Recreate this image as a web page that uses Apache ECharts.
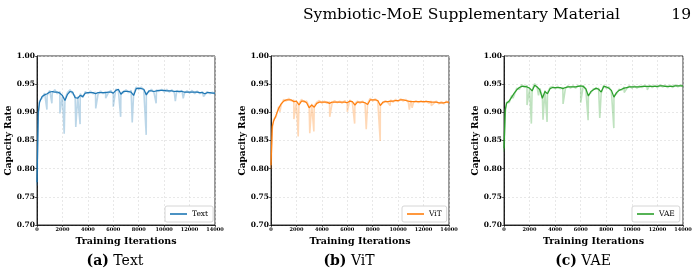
<!DOCTYPE html>
<html>
<head>
<meta charset="utf-8">
<script src="https://cdn.jsdelivr.net/npm/echarts@6/dist/echarts.min.js"></script>
<style>
  html, body { margin: 0; padding: 0; background: #fff; }
  #chart { width: 700px; height: 274px; }
</style>
</head>
<body>
<div id="chart"></div>
<script>
// training iterations of the smoothed curves and of the raw (light) traces
const iters = [0, 100, 200, 400, 600, 800, 1000, 1200, 1400, 1600, 1800, 2000, 2200, 2400, 2600, 2800, 3000,
  3200, 3400, 3600, 3800, 4000, 4200, 4400, 4600, 4800, 5000, 5200, 5400, 5600, 5800, 6000, 6200, 6400,
  6600, 6800, 7000, 7200, 7400, 7600, 7800, 8000, 8200, 8400, 8600, 8800, 9000, 9200, 9400, 9600, 9800,
  10000, 10200, 10400, 10600, 10800, 11000, 11200, 11400, 11600, 11800, 12000, 12200, 12400, 12600,
  12800, 13000, 13200, 13400, 13600, 13800, 14000];

const xTicks = [0, 2000, 4000, 6000, 8000, 10000, 12000, 14000];
const yTicks = ['0.70', '0.75', '0.80', '0.85', '0.90', '0.95', '1.00'];

// Text
const textSmooth = [0.776, 0.900, 0.918, 0.928, 0.931, 0.933, 0.936, 0.937, 0.936, 0.936, 0.934, 0.930, 0.921,
  0.932, 0.937, 0.936, 0.926, 0.925, 0.930, 0.928, 0.934, 0.935, 0.935, 0.935, 0.933, 0.935, 0.935, 0.935,
  0.935, 0.936, 0.936, 0.934, 0.939, 0.941, 0.932, 0.937, 0.937, 0.937, 0.936, 0.930, 0.942, 0.943, 0.942,
  0.941, 0.931, 0.938, 0.938, 0.937, 0.938, 0.939, 0.939, 0.939, 0.938, 0.938, 0.938, 0.937, 0.937, 0.937,
  0.937, 0.936, 0.936, 0.936, 0.936, 0.936, 0.936, 0.935, 0.935, 0.933, 0.935, 0.935, 0.934, 0.934];
const textRaw = [0.770, 0.895, 0.921, 0.925, 0.934, 0.930, 0.939, 0.934, 0.940, 0.933, 0.937, 0.929, 0.924,
  0.935, 0.940, 0.933, 0.929, 0.928, 0.933, 0.926, 0.937, 0.933, 0.938, 0.933, 0.936, 0.932, 0.938, 0.933,
  0.937, 0.934, 0.939, 0.932, 0.941, 0.939, 0.935, 0.935, 0.940, 0.935, 0.939, 0.932, 0.945, 0.940, 0.945,
  0.939, 0.934, 0.936, 0.941, 0.935, 0.940, 0.937, 0.941, 0.936, 0.941, 0.936, 0.940, 0.935, 0.939, 0.935,
  0.939, 0.934, 0.938, 0.934, 0.939, 0.933, 0.938, 0.933, 0.937, 0.931, 0.937, 0.933, 0.936, 0.932];
const textSpikeIters = [780, 1170, 1800, 2140, 3050, 3390, 4620, 5400, 6000, 6580, 7490, 8590, 9370, 10880, 11500, 13100];
const textSpikeVals = [0.905, 0.916, 0.898, 0.862, 0.874, 0.879, 0.907, 0.925, 0.910, 0.892, 0.882, 0.860, 0.916, 0.920, 0.925, 0.928];

// ViT
const vitSmooth = [0.806, 0.875, 0.884, 0.895, 0.907, 0.915, 0.920, 0.922, 0.922, 0.922, 0.919, 0.920, 0.913,
  0.920, 0.920, 0.917, 0.908, 0.913, 0.909, 0.916, 0.918, 0.918, 0.918, 0.918, 0.916, 0.918, 0.918, 0.918,
  0.918, 0.918, 0.918, 0.917, 0.920, 0.919, 0.913, 0.918, 0.918, 0.918, 0.917, 0.914, 0.922, 0.922, 0.922,
  0.921, 0.912, 0.918, 0.919, 0.919, 0.920, 0.920, 0.921, 0.921, 0.922, 0.922, 0.921, 0.920, 0.919, 0.919,
  0.919, 0.919, 0.919, 0.919, 0.919, 0.919, 0.918, 0.918, 0.918, 0.917, 0.917, 0.917, 0.918, 0.918];
const vitRaw = [0.800, 0.870, 0.887, 0.892, 0.910, 0.913, 0.923, 0.920, 0.925, 0.920, 0.922, 0.918, 0.916,
  0.923, 0.918, 0.920, 0.911, 0.915, 0.912, 0.918, 0.921, 0.916, 0.920, 0.916, 0.919, 0.915, 0.921, 0.917,
  0.920, 0.916, 0.921, 0.915, 0.922, 0.917, 0.916, 0.920, 0.916, 0.920, 0.915, 0.916, 0.925, 0.920, 0.924,
  0.919, 0.914, 0.916, 0.921, 0.917, 0.922, 0.918, 0.923, 0.919, 0.924, 0.920, 0.923, 0.918, 0.921, 0.917,
  0.921, 0.917, 0.921, 0.917, 0.921, 0.916, 0.920, 0.916, 0.920, 0.915, 0.919, 0.915, 0.920, 0.916];
const vitSpikeIters = [700, 1800, 2140, 3050, 3370, 4620, 6000, 6580, 7490, 8590, 9370, 10880, 11100, 12600];
const vitSpikeVals = [0.901, 0.888, 0.857, 0.863, 0.866, 0.892, 0.901, 0.880, 0.870, 0.849, 0.912, 0.905, 0.908, 0.912];

// VAE
const vaeSmooth = [0.836, 0.905, 0.916, 0.920, 0.927, 0.934, 0.940, 0.944, 0.946, 0.946, 0.945, 0.943, 0.938,
  0.948, 0.945, 0.940, 0.925, 0.937, 0.933, 0.942, 0.944, 0.944, 0.944, 0.944, 0.942, 0.944, 0.945, 0.945,
  0.945, 0.945, 0.946, 0.947, 0.946, 0.942, 0.929, 0.937, 0.940, 0.943, 0.941, 0.936, 0.946, 0.945, 0.943,
  0.939, 0.927, 0.935, 0.939, 0.941, 0.943, 0.944, 0.945, 0.945, 0.945, 0.945, 0.945, 0.946, 0.946, 0.946,
  0.946, 0.946, 0.946, 0.946, 0.947, 0.947, 0.946, 0.946, 0.946, 0.946, 0.947, 0.947, 0.947, 0.947];
const vaeRaw = [0.830, 0.900, 0.918, 0.917, 0.930, 0.931, 0.943, 0.941, 0.949, 0.944, 0.948, 0.941, 0.940,
  0.951, 0.943, 0.943, 0.928, 0.939, 0.935, 0.944, 0.946, 0.942, 0.946, 0.942, 0.944, 0.942, 0.947, 0.943,
  0.947, 0.943, 0.948, 0.945, 0.948, 0.940, 0.931, 0.935, 0.942, 0.941, 0.943, 0.934, 0.948, 0.943, 0.945,
  0.937, 0.929, 0.933, 0.941, 0.939, 0.945, 0.942, 0.947, 0.943, 0.947, 0.943, 0.947, 0.944, 0.948, 0.944,
  0.948, 0.944, 0.948, 0.944, 0.949, 0.945, 0.948, 0.944, 0.948, 0.944, 0.949, 0.945, 0.949, 0.945];
const vaeSpikeIters = [450, 700, 1800, 2140, 2700, 3050, 3370, 4620, 6000, 6580, 7490, 8590, 9400, 11200];
const vaeSpikeVals = [0.916, 0.925, 0.913, 0.880, 0.930, 0.887, 0.883, 0.915, 0.917, 0.886, 0.890, 0.872, 0.935, 0.940];

const panels = [
  { name: 'Text', color: '#1f77b4', smooth: textSmooth, raw: textRaw, sx: textSpikeIters, sy: textSpikeVals,
    left: 37, width: 178, legendLeft: 165, caption: ['(a)', 'Text'], capX: 115 },
  { name: 'ViT', color: '#ff7f0e', smooth: vitSmooth, raw: vitRaw, sx: vitSpikeIters, sy: vitSpikeVals,
    left: 271, width: 178, legendLeft: 402, caption: ['(b)', 'ViT'], capX: 349 },
  { name: 'VAE', color: '#2ca02c', smooth: vaeSmooth, raw: vaeRaw, sx: vaeSpikeIters, sy: vaeSpikeVals,
    left: 504, width: 179, legendLeft: 632, caption: ['(c)', 'VAE'], capX: 583 }
];

const SERIF = 'DejaVu Serif';

function pairs(xs, ys) {
  return xs.map((x, i) => [x, ys[i]]);
}
function rawTrace(p) {
  return pairs(iters, p.raw).concat(pairs(p.sx, p.sy)).sort((a, b) => a[0] - b[0]);
}
function fade(hex, a) {
  const n = parseInt(hex.slice(1), 16);
  return 'rgba(' + (n >> 16) + ',' + ((n >> 8) & 255) + ',' + (n & 255) + ',' + a + ')';
}

const grid = [], xAxis = [], yAxis = [], series = [], legend = [], graphic = [];

panels.forEach((p, i) => {
  grid.push({ left: p.left, top: 56, width: p.width, height: 169, show: true,
    borderColor: '#000', borderWidth: 0.8, backgroundColor: 'transparent' });
  xAxis.push({
    type: 'value', gridIndex: i, min: xTicks[0], max: xTicks[xTicks.length - 1], interval: 2000,
    name: 'Training Iterations', nameLocation: 'middle', nameGap: 8,
    nameTextStyle: { fontFamily: SERIF, fontWeight: 'bold', fontSize: 9.5, color: '#000' },
    axisLine: { lineStyle: { color: '#000', width: 0.8 } },
    axisTick: { length: 2, lineStyle: { color: '#000', width: 0.6 } },
    axisLabel: { fontFamily: SERIF, fontWeight: 'bold', fontSize: 5, color: '#000', margin: 2,
      formatter: v => String(v) },
    splitLine: { show: true, lineStyle: { color: '#d9d9d9', type: [2, 2], width: 0.6 } }
  });
  yAxis.push({
    type: 'value', gridIndex: i, min: 0.7, max: 1.0, interval: 0.05,
    name: 'Capacity Rate', nameLocation: 'middle', nameGap: 22,
    nameTextStyle: { fontFamily: SERIF, fontWeight: 'bold', fontSize: 9, color: '#000' },
    axisLine: { show: true, lineStyle: { color: '#000', width: 0.8 } },
    axisTick: { show: true, length: 2, lineStyle: { color: '#000', width: 0.6 } },
    axisLabel: { fontFamily: SERIF, fontWeight: 'bold', fontSize: 7.5, color: '#000', margin: 2,
      formatter: v => yTicks[Math.round((v - 0.7) / 0.05)] },
    splitLine: { show: true, lineStyle: { color: '#d9d9d9', type: [2, 2], width: 0.6 } }
  });
  series.push({
    type: 'line', xAxisIndex: i, yAxisIndex: i, data: rawTrace(p), symbol: 'none', silent: true,
    lineStyle: { color: fade(p.color, 0.3), width: 1.6 }, z: 2
  });
  series.push({
    name: p.name, type: 'line', xAxisIndex: i, yAxisIndex: i, data: pairs(iters, p.smooth),
    symbol: 'none', color: p.color, lineStyle: { color: p.color, width: 1.25 }, z: 3
  });
  legend.push({
    data: [p.name], left: p.legendLeft, top: 206, orient: 'vertical', icon: 'rect',
    padding: [4, 5, 4, 5], itemWidth: 17, itemHeight: 1.6, itemGap: 4,
    backgroundColor: '#fff', borderColor: '#cccccc', borderWidth: 0.8, borderRadius: 2,
    textStyle: { fontFamily: SERIF, fontSize: 7.5, color: '#000' }
  });
  graphic.push({
    type: 'text', x: p.capX, y: 261,
    style: {
      text: '{b|' + p.caption[0] + '} ' + p.caption[1],
      fontFamily: SERIF, fontSize: 14, fill: '#000',
      rich: { b: { fontFamily: SERIF, fontSize: 14, fontWeight: 'bold' } },
      align: 'center', verticalAlign: 'middle'
    }
  });
});

graphic.push({ type: 'text', x: 303, y: 15,
  style: { text: 'Symbiotic-MoE Supplementary Material', fontFamily: SERIF, fontSize: 15.5, fill: '#000',
    verticalAlign: 'middle' } });
graphic.push({ type: 'text', x: 691, y: 15,
  style: { text: '19', fontFamily: SERIF, fontSize: 15.5, fill: '#000', align: 'right', verticalAlign: 'middle' } });

const chart = echarts.init(document.getElementById('chart'), null, { renderer: 'canvas' });
chart.setOption({
  animation: false,
  backgroundColor: '#fff',
  grid, xAxis, yAxis, series, legend, graphic
});
</script>
</body>
</html>
